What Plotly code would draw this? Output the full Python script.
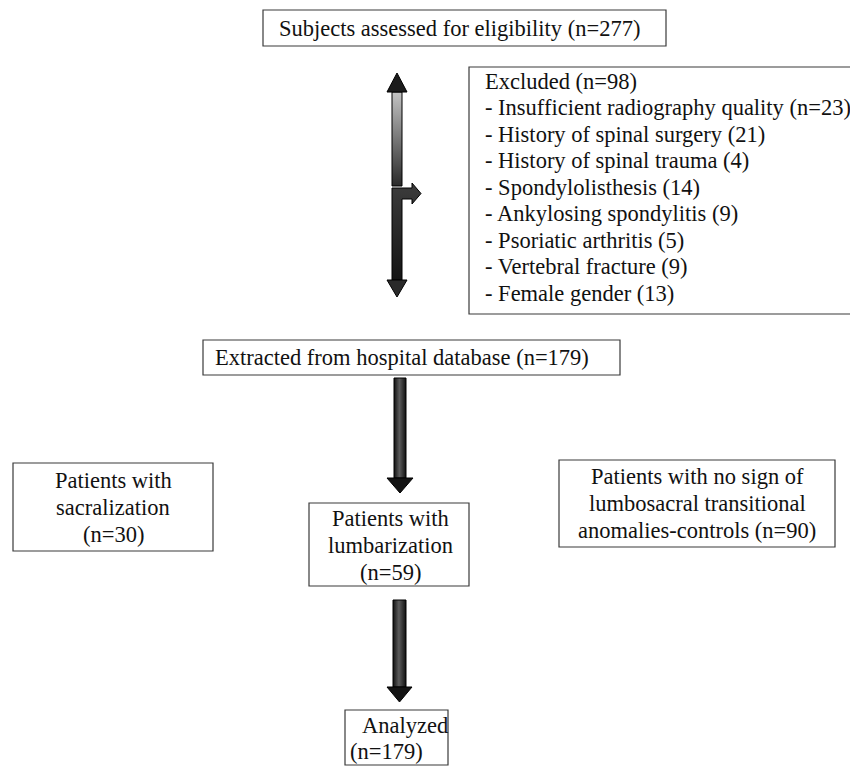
import plotly.graph_objects as go

# ---- content (text of the flow diagram) ----
title_box = "Subjects assessed for eligibility (n=277)"
excluded_head = "Excluded (n=98)"
excluded_items = [
    "- Insufficient radiography quality (n=23)",
    "- History of spinal surgery (21)",
    "- History of spinal trauma (4)",
    "- Spondylolisthesis (14)",
    "- Ankylosing spondylitis (9)",
    "- Psoriatic arthritis (5)",
    "- Vertebral fracture (9)",
    "- Female gender (13)",
]
extracted_box = "Extracted from hospital database (n=179)"
sacral_box = ["Patients with", "sacralization", "(n=30)"]
lumbar_box = ["Patients with", "lumbarization", "(n=59)"]
control_box = ["Patients with no sign of", "lumbosacral transitional", "anomalies-controls (n=90)"]
analyzed_box = ["Analyzed", "(n=179)"]

W, H = 858, 767
OFF = 8  # page body margin
FONT = "Liberation Serif, Times New Roman, serif"
FS = 22.5
BORDER = "#3a3a3a"

fig = go.Figure()
shapes = []
annotations = []


def box(x0, y0, x1, y1):
    shapes.append(dict(type="rect", xref="x", yref="y", x0=x0, y0=y0, x1=x1, y1=y1,
                       line=dict(color=BORDER, width=1.2), fillcolor="rgba(0,0,0,0)", layer="above"))


def text(x, y, s, anchor="left"):
    annotations.append(dict(x=x, y=y, xref="x", yref="y", text=s, showarrow=False,
                            xanchor=anchor, yanchor="middle", align=anchor,
                            font=dict(family=FONT, size=FS, color="#111")))


def poly(pts, grad=None, color=None):
    xs = [p[0] for p in pts] + [pts[0][0]]
    ys = [p[1] for p in pts] + [pts[0][1]]
    kw = dict(fillgradient=grad) if grad else dict(fillcolor=color)
    fig.add_trace(go.Scatter(x=xs, y=ys, mode="lines", fill="toself",
                             line=dict(color="#000", width=1),
                             hoverinfo="skip", showlegend=False, **kw))


HGRAD = dict(type="horizontal", colorscale=[[0, "#101010"], [0.45, "#5c5c5c"], [1, "#101010"]])

# boxes
box(263, 10, 666, 46)
text(277, 28, title_box)

box(469, 67, 852, 314)
ex_lines = [excluded_head] + excluded_items
for i, s in enumerate(ex_lines):
    text(483, 81 + i * 26.5, s)

box(203, 340, 620, 375)
text(213, 357.5, extracted_box)

box(13, 463, 213, 551)
for i, s in enumerate(sacral_box):
    text(113, 480 + i * 27, s, "center")

box(309, 503, 469, 586)
for i, s in enumerate(lumbar_box):
    text(390, 518 + i * 27, s, "center")

box(559, 460, 835, 547)
for i, s in enumerate(control_box):
    text(697, 476 + i * 27, s, "center")

box(345, 710, 448, 765)
text(360, 725, analyzed_box[0])
text(348, 751, analyzed_box[1])

# arrows
# double arrow: upper half (shaft light gradient, dark head)
poly([(402, 92), (402, 186), (392, 186), (392, 92)],
     dict(type="vertical", colorscale=[[0, "#2a2a2a"], [1, "#c4c4c4"]]))
poly([(397, 73), (407, 92), (387, 92)], color="#1c1c1c")
# lower half with branch to the right
poly([(392, 188), (412, 188), (412, 183), (421, 193.5), (412, 204), (412, 199), (402, 199),
      (402, 280), (392, 280)],
     dict(type="vertical", colorscale=[[0, "#151515"], [1, "#3c3c3c"]]))
poly([(387, 280), (407, 280), (397, 297)], color="#2a2a2a")
# main arrows
poly([(394, 378), (406, 378), (406, 478), (394, 478)], HGRAD)
poly([(387, 478), (413, 478), (400, 493)], color="#141414")
poly([(393, 600), (406, 600), (406, 687), (393, 687)], HGRAD)
poly([(387, 687), (412, 687), (399.5, 702)], color="#141414")

fig.update_layout(
    width=W - OFF, height=H - OFF,
    margin=dict(l=0, r=0, t=0, b=0),
    paper_bgcolor="white", plot_bgcolor="white",
    xaxis=dict(range=[OFF, W], visible=False, fixedrange=True),
    yaxis=dict(range=[H, OFF], visible=False, fixedrange=True),
    shapes=shapes, annotations=annotations, showlegend=False,
)
fig.write_html("out.html")
